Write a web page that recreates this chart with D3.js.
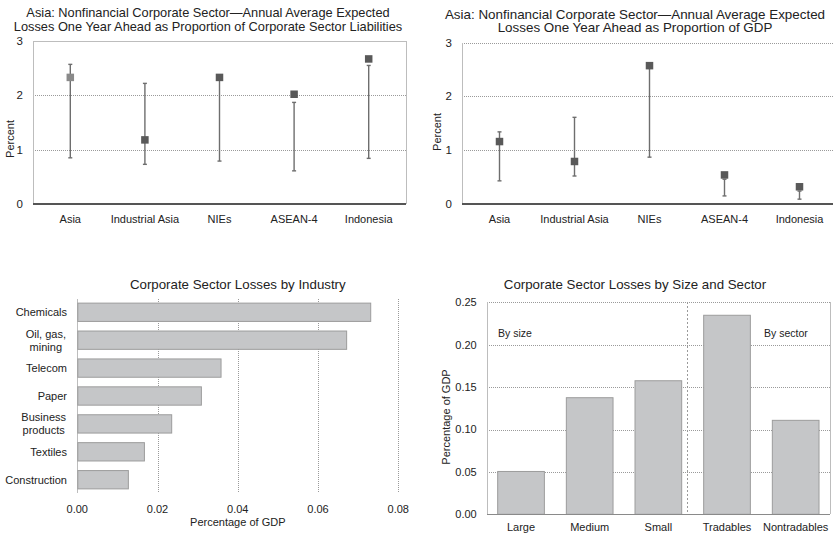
<!DOCTYPE html>
<html>
<head>
<meta charset="utf-8">
<script src="https://cdn.jsdelivr.net/npm/d3@7"></script>
<style>
  body { margin: 0; background: #fff; }
  svg { font-family: "Liberation Sans", Arial, sans-serif; fill: #222; }
  .grid { stroke: #9a9a9a; stroke-width: 1; stroke-dasharray: 1,1; shape-rendering: crispEdges; }
  .frame { stroke: #bdbdbd; stroke-width: 1; fill: none; shape-rendering: crispEdges; }
  .base { stroke: #555; stroke-width: 1.6; shape-rendering: crispEdges; }
  .bar { fill: #c5c6c8; stroke: #9c9c9c; stroke-width: 1; }
  .whisker { stroke: #6e6e6e; stroke-width: 1.4; }
  .tick { font-size: 11px; fill: #222; }
</style>
</head>
<body>
<svg id="chart" width="833" height="535"></svg>
<script>
// ---- data ----
const regions = ['Asia', 'Industrial Asia', 'NIEs', 'ASEAN-4', 'Indonesia'];

// losses as proportion of corporate sector liabilities (percent)
const liabMid = [2.33, 1.18, 2.33, 2.02, 2.67];
const liabLow = [0.85, 0.73, 0.79, 0.61, 0.84];
const liabHigh = [2.57, 2.22, 2.30, 1.87, 2.55];

// losses as proportion of GDP (percent)
const gdpMid = [1.16, 0.79, 2.57, 0.54, 0.32];
const gdpLow = [0.43, 0.52, 0.87, 0.15, 0.09];
const gdpHigh = [1.34, 1.61, 2.52, 0.46, 0.24];

const percentTicks = [0, 1, 2, 3];

// losses by industry (percentage of GDP)
const industries = ['Chemicals', 'Oil, gas,\nmining', 'Telecom', 'Paper', 'Business\nproducts', 'Textiles', 'Construction'];
const industryLoss = [0.073, 0.067, 0.0357, 0.0308, 0.0234, 0.0166, 0.0126];
const industryTicks = [0, 0.02, 0.04, 0.06, 0.08];

// losses by size and sector (percentage of GDP)
const groups = ['Large', 'Medium', 'Small', 'Tradables', 'Nontradables'];
const groupLoss = [0.0505, 0.1375, 0.1575, 0.2347, 0.1108];
const groupTicks = [0, 0.05, 0.10, 0.15, 0.20, 0.25];

const svg = d3.select('#chart');

function title(lines, cx, y0, size) {
    const t = svg.append('text')
        .attr('text-anchor', 'middle')
        .style('font-size', size + 'px')
        .style('fill', '#222');
    lines.forEach((l, i) => {
        t.append('tspan').attr('x', cx).attr('y', y0 + i * 13.5).text(l);
    });
}

// ---- whisker chart (top row) ----
function drawRange(opt) {
    const g = svg.append('g');
    const x = d3.scaleBand().domain(regions).range([opt.left, opt.right]);
    const y = d3.scaleLinear().domain([0, 3]).range([opt.bottom, opt.top]);

    // grid
    g.selectAll('.grid').data(opt.gridTicks).enter().append('line')
        .attr('class', 'grid')
        .attr('x1', opt.left).attr('x2', opt.right)
        .attr('y1', d => Math.round(y(d)) + 0.5).attr('y2', d => Math.round(y(d)) + 0.5);

    if (opt.frame) {
        g.append('line').attr('class', 'frame')
            .attr('x1', opt.left).attr('x2', opt.right)
            .attr('y1', Math.round(y(3)) + 0.5).attr('y2', Math.round(y(3)) + 0.5);
        g.append('line').attr('class', 'frame')
            .attr('x1', opt.right + 0.5).attr('x2', opt.right + 0.5)
            .attr('y1', y(3)).attr('y2', y(0));
    }
    g.append('line').attr('class', 'frame')
        .attr('x1', opt.left + 0.5).attr('x2', opt.left + 0.5)
        .attr('y1', y(3)).attr('y2', y(0));
    g.append('line').attr('class', 'base')
        .attr('x1', opt.left).attr('x2', opt.right)
        .attr('y1', y(0)).attr('y2', y(0));

    // y ticks
    g.selectAll('.ytick').data(percentTicks).enter().append('text')
        .attr('class', 'tick')
        .attr('x', opt.left - 10).attr('y', d => y(d))
        .attr('dy', '0.35em').attr('text-anchor', 'end')
        .style('font-size', '11.5px')
        .text(d => d);

    // x labels
    g.selectAll('.xtick').data(regions).enter().append('text')
        .attr('class', 'tick')
        .attr('x', d => x(d) + x.bandwidth() / 2).attr('y', opt.bottom + 19)
        .attr('text-anchor', 'middle')
        .text(d => d);

    g.append('text')
        .attr('transform', 'translate(' + opt.ylabX + ',' + opt.ylabY + ') rotate(-90)')
        .attr('text-anchor', 'middle')
        .style('font-size', '11px')
        .text('Percent');

    const cx = (i) => x(regions[i]) + x.bandwidth() / 2;
    const idx = d3.range(regions.length);

    g.selectAll('.whisker').data(idx).enter().append('line')
        .attr('class', 'whisker')
        .attr('x1', cx).attr('x2', cx)
        .attr('y1', i => y(opt.low[i])).attr('y2', i => y(opt.high[i]));
    [opt.low, opt.high].forEach(arr => {
        g.selectAll(null).data(idx).enter().append('line')
            .attr('class', 'whisker')
            .attr('x1', i => cx(i) - 2).attr('x2', i => cx(i) + 2)
            .attr('y1', i => y(arr[i])).attr('y2', i => y(arr[i]));
    });

    const s = 7.5;
    g.selectAll('.marker').data(idx).enter().append('rect')
        .attr('x', i => cx(i) - s / 2).attr('y', i => y(opt.mid[i]) - s / 2)
        .attr('width', s).attr('height', s)
        .style('fill', i => (opt.lightFirst && i == 0) ? '#8a8a8a' : '#595959');
}

drawRange({
    left: 33, right: 406, top: 41, bottom: 204,
    mid: liabMid, low: liabLow, high: liabHigh,
    gridTicks: [1, 2], frame: true, lightFirst: true,
    ylabX: 14, ylabY: 139
});
title(['Asia: Nonfinancial Corporate Sector\u2014Annual Average Expected',
       'Losses One Year Ahead as Proportion of Corporate Sector Liabilities'], 208, 17, 12.8);

drawRange({
    left: 462, right: 837, top: 42.5, bottom: 204,
    mid: gdpMid, low: gdpLow, high: gdpHigh,
    gridTicks: [1, 2, 3], frame: false, lightFirst: false,
    ylabX: 441, ylabY: 132
});
title(['Asia: Nonfinancial Corporate Sector\u2014Annual Average Expected',
       'Losses One Year Ahead as Proportion of GDP'], 635, 18.5, 13.4);

// ---- industry bars (bottom left) ----
(function () {
    const left = 77.3, right = 398.3, top = 299.3, bottom = 492.7;
    const g = svg.append('g');
    const x = d3.scaleLinear().domain([0, 0.08]).range([left, right]);
    const y = d3.scaleBand().domain(industries).range([top, bottom])
        .paddingInner(0.344).paddingOuter(0.137);

    g.selectAll('.grid').data(industryTicks.slice(1)).enter().append('line')
        .attr('class', 'grid')
        .attr('x1', d => Math.round(x(d)) + 0.5).attr('x2', d => Math.round(x(d)) + 0.5)
        .attr('y1', top).attr('y2', bottom);
    g.append('line').attr('class', 'frame')
        .attr('x1', left + 0.5).attr('x2', left + 0.5)
        .attr('y1', top).attr('y2', bottom);

    g.selectAll('.bar').data(industries).enter().append('rect')
        .attr('class', 'bar')
        .attr('x', x(0) + 0.5)
        .attr('y', d => y(d))
        .attr('width', (d, i) => x(industryLoss[i]) - x(0))
        .attr('height', y.bandwidth());

    g.selectAll('.xtick').data(industryTicks).enter().append('text')
        .attr('class', 'tick')
        .attr('x', d => x(d)).attr('y', bottom + 20)
        .attr('text-anchor', 'middle')
        .text(d => d.toFixed(2));

    g.append('text')
        .attr('x', (left + right) / 2).attr('y', 526)
        .attr('text-anchor', 'middle')
        .style('font-size', '11px')
        .text('Percentage of GDP');

    industries.forEach(name => {
        const lines = name.split('\n');
        const cy = y(name) + y.bandwidth() / 2;
        const t = g.append('text').attr('class', 'tick');
        if (lines.length == 1) {
            t.attr('x', 67).attr('y', cy).attr('dy', '0.35em')
                .attr('text-anchor', 'end').text(name);
        } else {
            t.attr('text-anchor', 'middle');
            const tsp = lines.map((l, i) => t.append('tspan')
                .attr('y', cy + (i - 0.5) * 13).attr('dy', '0.35em').text(l));
            const w = d3.max(tsp, s => s.node().getComputedTextLength());
            tsp.forEach(s => s.attr('x', 66 - w / 2));
        }
    });

    title(['Corporate Sector Losses by Industry'], (left + right) / 2, 289, 13.3);
})();

// ---- size and sector bars (bottom right) ----
(function () {
    const left = 486.7, right = 830, top = 302.3, bottom = 514.3;
    const g = svg.append('g');
    const x = d3.scaleBand().domain(groups).range([left, right])
        .paddingInner(0.32).paddingOuter(0.16);
    const y = d3.scaleLinear().domain([0, 0.25]).range([bottom, top]);

    g.selectAll('.grid').data(groupTicks.slice(1)).enter().append('line')
        .attr('class', 'grid')
        .attr('x1', left).attr('x2', right)
        .attr('y1', d => Math.round(y(d)) + 0.5).attr('y2', d => Math.round(y(d)) + 0.5);
    g.append('line').attr('class', 'frame')
        .attr('x1', left + 0.5).attr('x2', left + 0.5).attr('y1', top).attr('y2', bottom);
    g.append('line').attr('class', 'frame')
        .attr('x1', right + 0.5).attr('x2', right + 0.5).attr('y1', top).attr('y2', bottom);

    // divider between size and sector groups
    const divX = Math.round(x('Tradables') - x.step() * 0.24) + 0.5;
    g.append('line').attr('class', 'grid')
        .style('stroke-dasharray', '2,2')
        .attr('x1', divX).attr('x2', divX).attr('y1', top).attr('y2', bottom);

    g.selectAll('.bar').data(groups).enter().append('rect')
        .attr('class', 'bar')
        .attr('x', d => x(d))
        .attr('y', (d, i) => y(groupLoss[i]))
        .attr('width', x.bandwidth())
        .attr('height', (d, i) => y(0) - y(groupLoss[i]));

    g.append('line').attr('class', 'frame')
        .style('stroke', '#8a8a8a')
        .attr('x1', left).attr('x2', right).attr('y1', bottom + 0.5).attr('y2', bottom + 0.5);

    g.selectAll('.ytick').data(groupTicks).enter().append('text')
        .attr('class', 'tick')
        .attr('x', left - 10).attr('y', d => y(d))
        .attr('dy', '0.35em').attr('text-anchor', 'end')
        .text(d => d.toFixed(2));

    g.selectAll('.xtick').data(groups).enter().append('text')
        .attr('class', 'tick')
        .attr('x', d => x(d) + x.bandwidth() / 2).attr('y', 531)
        .attr('text-anchor', 'middle')
        .text(d => d);

    g.append('text')
        .attr('transform', 'translate(450,417) rotate(-90)')
        .attr('text-anchor', 'middle')
        .style('font-size', '11px')
        .text('Percentage of GDP');

    g.append('text').attr('class', 'tick').style('font-size', '10.5px')
        .attr('x', 498).attr('y', 336.5).text('By size');
    g.append('text').attr('class', 'tick').style('font-size', '10.5px')
        .attr('x', 764).attr('y', 336.5).text('By sector');

    title(['Corporate Sector Losses by Size and Sector'], 635, 289, 13.3);
})();
</script>
</body>
</html>
